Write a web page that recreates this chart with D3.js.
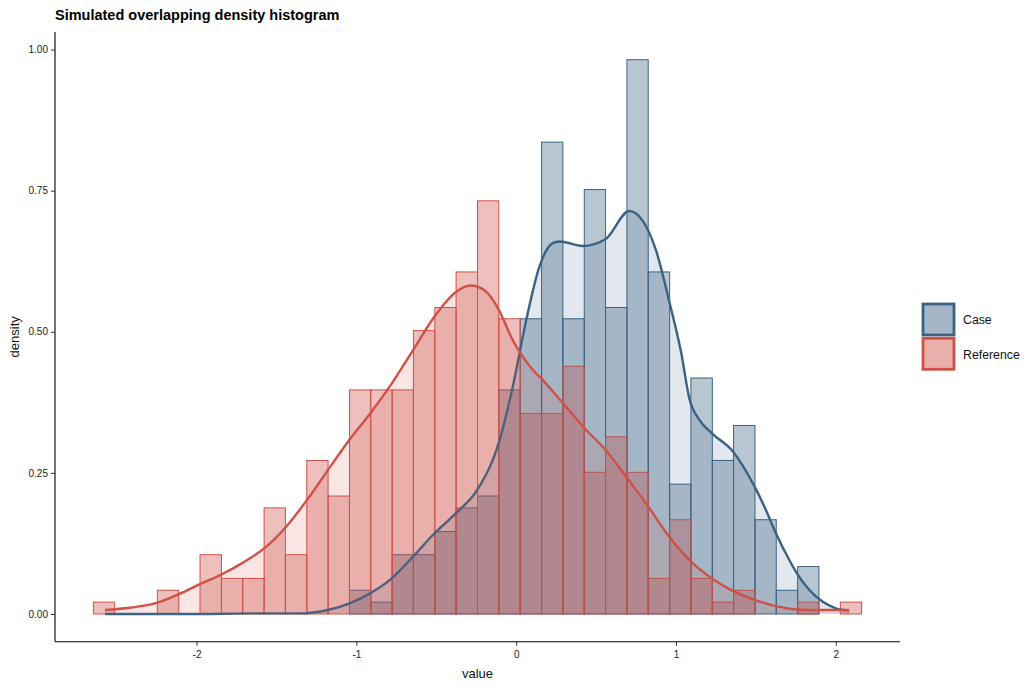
<!DOCTYPE html>
<html>
<head>
<meta charset="utf-8">
<script src="https://cdn.jsdelivr.net/npm/d3@7"></script>
<style>
  body { margin: 0; background: #fff; }
  text { font-family: "Liberation Sans", Arial, sans-serif; }
</style>
</head>
<body>
<div id="chart"></div>
<script>
// histogram bin edges (value units), shared by both groups
const binEdges = [
  -2.645, -2.512, -2.378, -2.245, -2.111, -1.978, -1.844, -1.711, -1.577,
  -1.444, -1.310, -1.177, -1.043, -0.910, -0.776, -0.643, -0.509, -0.376,
  -0.242, -0.109, 0.025, 0.159, 0.292, 0.426, 0.559, 0.693, 0.826, 0.960,
  1.093, 1.227, 1.360, 1.494, 1.627, 1.761, 1.894, 2.028, 2.161
]

// bar heights (density) per bin
const caseDensity = [
  0, 0, 0, 0, 0, 0, 0, 0, 0, 0, 0, 0,
  0.042, 0.021, 0.105, 0.105, 0.146, 0.188, 0.209, 0.397, 0.523, 0.836,
  0.523, 0.752, 0.543, 0.982, 0.606, 0.230, 0.418, 0.272, 0.334, 0.167,
  0.042, 0.084, 0, 0
]
const referenceDensity = [
  0.021, 0, 0, 0.042, 0, 0.105, 0.063, 0.063, 0.188, 0.105, 0.272, 0.209,
  0.397, 0.397, 0.397, 0.502, 0.543, 0.606, 0.732, 0.523, 0.355, 0.355,
  0.439, 0.251, 0.314, 0.251, 0.063, 0.167, 0.063, 0.021, 0.042, 0,
  0, 0.021, 0, 0.021
]

// smoothed density curves
const caseCurveX = [-2.573, -1.979, -1.667, -1.354, -1.179, -1.042, -0.911, -0.775, -0.644,
  -0.511, -0.375, -0.244, -0.109, -0.021, 0.063, 0.146, 0.229, 0.271, 0.416, 0.558,
  0.708, 0.791, 0.875, 0.960, 1.031, 1.085, 1.146, 1.225, 1.356, 1.491, 1.563, 1.625,
  1.708, 1.756, 1.833, 1.916, 2.0, 2.083]
const caseCurveY = [0, 0, 0.001, 0.001, 0.007, 0.019, 0.037, 0.064, 0.102,
  0.143, 0.179, 0.22, 0.303, 0.403, 0.521, 0.616, 0.657, 0.66, 0.652, 0.664,
  0.714, 0.697, 0.644, 0.551, 0.465, 0.38, 0.344, 0.32, 0.288, 0.226, 0.184, 0.143,
  0.096, 0.072, 0.043, 0.022, 0.010, 0.006]

const refCurveX = [-2.573, -2.417, -2.244, -2.104, -1.979, -1.844, -1.709, -1.573, -1.438,
  -1.306, -1.173, -1.042, -0.911, -0.775, -0.644, -0.511, -0.375, -0.281, -0.188,
  -0.109, -0.023, 0.102, 0.158, 0.291, 0.425, 0.558, 0.691, 0.827, 0.960, 1.083,
  1.225, 1.356, 1.491, 1.625, 1.756, 1.916, 2.083]
const refCurveY = [0.007, 0.011, 0.02, 0.036, 0.053, 0.07, 0.091, 0.117, 0.155,
  0.203, 0.257, 0.309, 0.356, 0.41, 0.468, 0.527, 0.571, 0.582, 0.571,
  0.539, 0.486, 0.433, 0.417, 0.374, 0.33, 0.291, 0.242, 0.19, 0.136, 0.096,
  0.063, 0.041, 0.025, 0.014, 0.008, 0.007, 0.007]

const groups = ["Case", "Reference"]
const groupColors = ["#3a6283", "#cf5147"]
const xTicks = [-2, -1, 0, 1, 2]
const xTickLabels = ["-2", "-1", "0", "1", "2"]
const yTicks = [0, 0.25, 0.5, 0.75, 1]
const yTickLabels = ["0.00", "0.25", "0.50", "0.75", "1.00"]

// dimensions
const width = 1036
const height = 690
const panel = { left: 55, right: 900, top: 32, bottom: 641.7 }

const svg = d3.select("#chart")
  .append("svg")
    .attr("width", width)
    .attr("height", height)

svg.append("rect")
  .attr("width", width)
  .attr("height", height)
  .attr("fill", "#fff")

// scales, with 5% expansion like ggplot
const xLo = binEdges[0], xHi = binEdges[binEdges.length - 1]
const xPad = (xHi - xLo) * 0.05
const x = d3.scaleLinear()
  .domain([xLo - xPad, xHi + xPad])
  .range([panel.left, panel.right])

const yMax = d3.max([...caseDensity, ...referenceDensity])
const y = d3.scaleLinear()
  .domain([-0.05 * yMax, 1.05 * yMax])
  .range([panel.bottom, panel.top])

// histogram bars
const barSeries = [caseDensity, referenceDensity]
barSeries.forEach((series, gi) => {
  const bins = series.map((d, i) => ({ x0: binEdges[i], x1: binEdges[i + 1], d }))
  svg.append("g")
    .selectAll("rect")
    .data(bins)
    .join("rect")
      .attr("x", b => x(b.x0))
      .attr("width", b => x(b.x1) - x(b.x0))
      .attr("y", b => y(b.d))
      .attr("height", b => y(0) - y(b.d))
      .attr("fill", groupColors[gi])
      .attr("fill-opacity", 0.36)
      .attr("stroke", groupColors[gi])
      .attr("stroke-width", 1)
})

// density areas + lines
const curves = [
  caseCurveX.map((v, i) => [v, caseCurveY[i]]),
  refCurveX.map((v, i) => [v, refCurveY[i]])
]
const area = d3.area()
  .x(d => x(d[0]))
  .y0(y(0))
  .y1(d => y(d[1]))
  .curve(d3.curveMonotoneX)
const line = d3.line()
  .x(d => x(d[0]))
  .y(d => y(d[1]))
  .curve(d3.curveMonotoneX)

curves.forEach((pts, gi) => {
  svg.append("path")
    .datum(pts)
    .attr("d", area)
    .attr("fill", groupColors[gi])
    .attr("fill-opacity", 0.15)
  svg.append("path")
    .datum(pts)
    .attr("d", line)
    .attr("fill", "none")
    .attr("stroke", groupColors[gi])
    .attr("stroke-width", 2.4)
})

// axes
const xAxis = svg.append("g")
  .attr("transform", `translate(0,${panel.bottom})`)
  .call(d3.axisBottom(x).tickValues(xTicks).tickSize(4).tickPadding(5).tickSizeOuter(0)
    .tickFormat((d, i) => xTickLabels[i]))
const yAxis = svg.append("g")
  .attr("transform", `translate(${panel.left},0)`)
  .call(d3.axisLeft(y).tickValues(yTicks).tickSize(4).tickPadding(3).tickSizeOuter(0)
    .tickFormat((d, i) => yTickLabels[i]))

;[xAxis, yAxis].forEach(a => {
  a.select(".domain").attr("stroke", "#000").attr("stroke-width", 1.1)
  a.selectAll(".tick line").attr("stroke", "#333")
  a.selectAll(".tick text")
    .attr("fill", "#222")
    .style("font-size", "10px")
    .style("font-family", "'Liberation Sans', Arial, sans-serif")
})
xAxis.select(".domain").attr("d", `M${panel.left},0H${panel.right}`)
yAxis.select(".domain").attr("d", `M0,${panel.top}V${panel.bottom}`)

// axis titles
svg.append("text")
  .attr("x", (panel.left + panel.right) / 2)
  .attr("y", 678)
  .attr("text-anchor", "middle")
  .style("font-size", "13px")
  .attr("fill", "#111")
  .text("value")

svg.append("text")
  .attr("transform", `translate(19,${(panel.top + panel.bottom) / 2}) rotate(-90)`)
  .attr("text-anchor", "middle")
  .style("font-size", "13px")
  .attr("fill", "#111")
  .text("density")

// title
svg.append("text")
  .attr("x", 55)
  .attr("y", 20)
  .style("font-size", "14.5px")
  .style("font-weight", "bold")
  .attr("fill", "#000")
  .text("Simulated overlapping density histogram")

// legend
const legend = svg.append("g")
  .attr("transform", "translate(923,304)")
groups.forEach((g, i) => {
  const row = legend.append("g")
    .attr("transform", `translate(0,${i * 34.3})`)
  row.append("rect")
    .attr("width", 31).attr("height", 31)
    .attr("fill", groupColors[i]).attr("fill-opacity", 0.36)
  row.append("rect")
    .attr("width", 31).attr("height", 31)
    .attr("fill", groupColors[i]).attr("fill-opacity", 0.15)
    .attr("stroke", groupColors[i]).attr("stroke-width", 2.8)
  row.append("text")
    .attr("x", 40)
    .attr("y", 16)
    .attr("dy", "0.35em")
    .style("font-size", "12.3px")
    .attr("fill", "#111")
    .text(g)
})
</script>
</body>
</html>
